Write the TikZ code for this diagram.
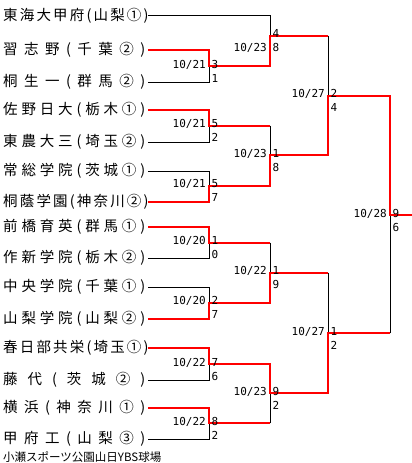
\documentclass[tikz,border=0pt]{standalone}
\usepackage{fontspec}
\setmainfont{Noto Sans CJK JP}
\newfontfamily\numfont{DejaVu Sans Mono}
\usepackage{xcolor}
\definecolor{winred}{RGB}{255,0,0}
\usepackage{tikz}
\usetikzlibrary{calc}

\newcommand{\teamname}[1]{\makebox[142pt][s]{#1}}

\begin{document}
\begin{tikzpicture}[x=1pt, y=-1pt,
  team/.style={anchor=west, inner xsep=3pt, inner ysep=0pt,
               font=\fontsize{14.5}{14.5}\selectfont},
  lose/.style={draw=black, line width=1pt},
  win/.style={draw=winred, line width=2pt},
  numlab/.style={inner sep=0pt, text height=8pt, text depth=0pt,
                 font=\numfont\fontsize{11}{11}\selectfont},
  scoreup/.style={numlab, anchor=west, xshift=2.5pt, yshift=2pt},
  scoredn/.style={numlab, anchor=west, xshift=2.5pt, yshift=-12pt},
  dateup/.style={numlab, anchor=east, xshift=-3pt, yshift=2pt},
  datedn/.style={numlab, anchor=east, xshift=-3pt, yshift=-12pt},
  venue/.style={anchor=west, inner sep=0pt, font=\fontsize{11.5}{11.5}\selectfont}
]
\useasboundingbox (0,0) rectangle (412,463);

% Teams
\node[team] (t0) at (0,15.7) {\teamname{東 海 大 甲 府 ( 山 梨 ① )}};
\node[team] (t1) at (0,50) {\teamname{習 志 野 ( 千 葉 ② )}};
\node[team] (t2) at (0,82) {\teamname{桐 生 一 ( 群 馬 ② )}};
\node[team] (t3) at (0,110) {\teamname{佐 野 日 大 ( 栃 木 ① )}};
\node[team] (t4) at (0,142) {\teamname{東 農 大 三 ( 埼 玉 ② )}};
\node[team] (t5) at (0,171) {\teamname{常 総 学 院 ( 茨 城 ① )}};
\node[team] (t6) at (0,202) {\teamname{桐 蔭 学 園 ( 神 奈 川 ② )}};
\node[team] (t7) at (0,227) {\teamname{前 橋 育 英 ( 群 馬 ① )}};
\node[team] (t8) at (0,258) {\teamname{作 新 学 院 ( 栃 木 ② )}};
\node[team] (t9) at (0,287) {\teamname{中 央 学 院 ( 千 葉 ① )}};
\node[team] (t10) at (0,319) {\teamname{山 梨 学 院 ( 山 梨 ② )}};
\node[team] (t11) at (0,348) {\teamname{春 日 部 共 栄 ( 埼 玉 ① )}};
\node[team] (t12) at (0,380) {\teamname{藤 代 ( 茨 城 ② )}};
\node[team] (t13) at (0,408) {\teamname{横 浜 ( 神 奈 川 ① )}};
\node[team] (t14) at (0,439) {\teamname{甲 府 工 ( 山 梨 ③ )}};
\node[venue] (venue) at (3,456.7) {小瀬スポーツ公園山日YBS球場};

% Joints
\coordinate (a1) at (209,66);
\coordinate (a2) at (209,125.7);
\coordinate (a3) at (209,185.7);
\coordinate (a4) at (209,242.7);
\coordinate (a5) at (209,302.7);
\coordinate (a6) at (209,364);
\coordinate (a7) at (209,423.3);
\coordinate (b1) at (270,35.7);
\coordinate (b2) at (270,155);
\coordinate (b3) at (270,272.7);
\coordinate (b4) at (270,393.3);
\coordinate (c1) at (328,95.7);
\coordinate (c2) at (328,333.3);
\coordinate (fin) at (390,215);
\coordinate (champ) at (412,215);

% Losing lines
\draw[lose] (t0.east) -| (b1);
\draw[lose] (t2.east) -| (a1);
\draw[lose] (t4.east) -| (a2);
\draw[lose] (t5.east) -| (a3);
\draw[lose] (t8.east) -| (a4);
\draw[lose] (t9.east) -| (a5);
\draw[lose] (t12.east) -| (a6);
\draw[lose] (t14.east) -| (a7);
\draw[lose] (a2 -| b2) -- (b2);
\draw[lose] (a4 -| b3) -- (b3);
\draw[lose] (a7 -| b4) -- (b4);
\draw[lose] (b1 -| c1) -- (c1);
\draw[lose] (b3 -| c2) -- (c2);
\draw[lose] (c2 -| fin) -- (fin);

% Winning lines
\draw[win] (t1.east) -| (a1) -| (b1) -- (b1 -| c1);
\draw[win] (t3.east) -| (a2) -- (a2 -| b2);
\draw[win] (t6.east) -| (a3) -| (b2) -| (c1) -| (fin) -- (champ);
\draw[win] (t7.east) -| (a4) -- (a4 -| b3);
\draw[win] (t10.east) -| (a5) -| (b3) -- (b3 -| c2);
\draw[win] (t11.east) -| (a6) -| (b4) -| (c2) -- (c2 -| fin);
\draw[win] (t13.east) -| (a7) -- (a7 -| b4);

% Round 1
\node[dateup] (d1) at (a1) {10/21};
\node[scoreup] (s1u) at (a1) {3};
\node[scoredn] (s1d) at (a1) {1};
\node[dateup] (d2) at (a2) {10/21};
\node[scoreup] (s2u) at (a2) {5};
\node[scoredn] (s2d) at (a2) {2};
\node[dateup] (d3) at (a3) {10/21};
\node[scoreup] (s3u) at (a3) {5};
\node[scoredn] (s3d) at (a3) {7};
\node[dateup] (d4) at (a4) {10/20};
\node[scoreup] (s4u) at (a4) {1};
\node[scoredn] (s4d) at (a4) {0};
\node[dateup] (d5) at (a5) {10/20};
\node[scoreup] (s5u) at (a5) {2};
\node[scoredn] (s5d) at (a5) {7};
\node[dateup] (d6) at (a6) {10/22};
\node[scoreup] (s6u) at (a6) {7};
\node[scoredn] (s6d) at (a6) {6};
\node[dateup] (d7) at (a7) {10/22};
\node[scoreup] (s7u) at (a7) {8};
\node[scoredn] (s7d) at (a7) {2};

% Round 2
\node[datedn] (e1) at (b1) {10/23};
\node[scoreup] (q1u) at (b1) {4};
\node[scoredn] (q1d) at (b1) {8};
\node[dateup] (e2) at (b2) {10/23};
\node[scoreup] (q2u) at (b2) {1};
\node[scoredn] (q2d) at (b2) {8};
\node[dateup] (e3) at (b3) {10/22};
\node[scoreup] (q3u) at (b3) {1};
\node[scoredn] (q3d) at (b3) {9};
\node[dateup] (e4) at (b4) {10/23};
\node[scoreup] (q4u) at (b4) {9};
\node[scoredn] (q4d) at (b4) {2};

% Semifinals and final
\node[dateup] (g1) at (c1) {10/27};
\node[scoreup] (h1u) at (c1) {2};
\node[scoredn] (h1d) at (c1) {4};
\node[dateup] (g2) at (c2) {10/27};
\node[scoreup] (h2u) at (c2) {1};
\node[scoredn] (h2d) at (c2) {2};
\node[dateup] (gf) at (fin) {10/28};
\node[scoreup] (hfu) at (fin) {9};
\node[scoredn] (hfd) at (fin) {6};
\end{tikzpicture}
\end{document}
